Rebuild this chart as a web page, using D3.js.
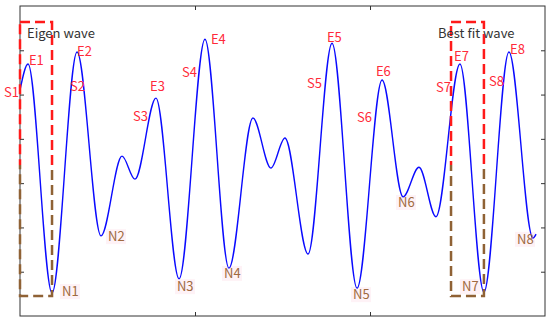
<!DOCTYPE html>
<html>
<head>
<meta charset="utf-8">
<script src="https://cdn.jsdelivr.net/npm/d3@7"></script>
<style>
body { margin: 0; background: #fff; }
text { font-family: "Noto Sans CJK SC", "Noto Sans", sans-serif; }
</style>
</head>
<body>
<div id="chart"></div>
<script>
// wave samples (turning points of the curve)
var waveX = [0, 0.046, 0.183, 0.326, 0.463, 0.583, 0.657, 0.777, 0.909, 1.057, 1.194, 1.331, 1.434, 1.514, 1.646, 1.783, 1.926, 2.069, 2.189, 2.280, 2.377, 2.514, 2.651, 2.794, 2.931, 2.949];
var waveY = [5.10, 5.69, 0.52, 5.96, 1.81, 3.61, 3.09, 4.92, 0.84, 6.25, 1.08, 4.47, 3.34, 4.02, 1.40, 6.16, 0.63, 5.33, 2.69, 3.36, 2.24, 5.69, 0.54, 5.96, 1.76, 1.85];

// point labels
var eNames = ['E1','E2','E3','E4','E5','E6','E7','E8'];
var eX = [0.051, 0.326, 0.743, 1.091, 1.754, 2.034, 2.480, 2.800];
var eY = [5.67, 5.88, 5.08, 6.14, 6.19, 5.42, 5.76, 5.92];
var sNames = ['S1','S2','S3','S4','S5','S6','S7','S8'];
var sX = [-0.091, 0.286, 0.646, 0.926, 1.640, 1.926, 2.377, 2.680];
var sY = [4.95, 5.08, 4.40, 5.40, 5.15, 4.38, 5.06, 5.19];
var nNames = ['N1','N2','N3','N4','N5','N6','N7','N8'];
var nX = [0.240, 0.503, 0.897, 1.166, 1.903, 2.160, 2.526, 2.840];
var nY = [0.45, 1.69, 0.56, 0.86, 0.38, 2.46, 0.56, 1.63];

// dashed windows
var boxNames = ['Eigen wave', 'Best fit wave'];
var boxX0 = [0, 2.463];
var boxX1 = [0.183, 2.651];
var boxY0 = 0.45, boxY1 = 6.64;
var boxTitleX = [0.040, 2.389];
var boxTitleY = 6.27;

var xTicks = [1, 2];
var yTicks = [1, 2, 3, 4, 5, 6];

var width = 550, height = 322;
var margin = {top: 6, right: 5, bottom: 6, left: 20};
var w = width - margin.left - margin.right,
    h = height - margin.top - margin.bottom;

var svg = d3.select('#chart').append('svg')
  .attr('width', width).attr('height', height)
  .append('g')
  .attr('transform', 'translate(' + margin.left + ',' + margin.top + ')');

var x = d3.scaleLinear().domain([0, 3]).range([0, w]);
var y = d3.scaleLinear().domain([0, 7]).range([h, 0]);

// axes with inward ticks, no labels
function styleAxis(g) {
  g.selectAll('text').remove();
  g.selectAll('line').attr('stroke', '#333');
  g.select('.domain').remove();
}
svg.append('g').attr('transform', 'translate(0,' + h + ')')
  .call(d3.axisBottom(x).tickValues(xTicks).tickSizeInner(-4).tickSizeOuter(0)).call(styleAxis);
svg.append('g')
  .call(d3.axisTop(x).tickValues(xTicks).tickSizeInner(-4).tickSizeOuter(0)).call(styleAxis);
svg.append('g')
  .call(d3.axisLeft(y).tickValues(yTicks).tickSizeInner(-4).tickSizeOuter(0)).call(styleAxis);
svg.append('g').attr('transform', 'translate(' + w + ',0)')
  .call(d3.axisRight(y).tickValues(yTicks).tickSizeInner(-4).tickSizeOuter(0)).call(styleAxis);
svg.append('rect').attr('x', 0).attr('y', 0).attr('width', w).attr('height', h)
  .attr('fill', 'none').attr('stroke', '#333').attr('stroke-width', 1);

// faint pink halo behind N labels
var nData = nNames.map(function(n, i) { return {name: n, x: nX[i], y: nY[i]}; });
svg.selectAll('.nbg').data(nData).enter().append('rect')
  .attr('x', function(d) { return x(d.x) - 2; })
  .attr('y', function(d) { return y(d.y) - 12; })
  .attr('width', 20).attr('height', 15)
  .attr('fill', '#fef2f6');

// wave
var pts = waveX.map(function(v, i) { return [v, waveY[i]]; });
var line = d3.line().x(function(d) { return x(d[0]); }).y(function(d) { return y(d[1]); })
  .curve(d3.curveMonotoneX);
svg.append('path').datum(pts).attr('d', line)
  .attr('fill', 'none').attr('stroke', '#0a0aff').attr('stroke-width', 1.4);

// dashed boxes, red above and brownish lower down
var split = 165 - margin.top;
svg.append('clipPath').attr('id', 'upper').append('rect')
  .attr('x', -10).attr('y', -10).attr('width', w + 20).attr('height', split + 10);
svg.append('clipPath').attr('id', 'lower').append('rect')
  .attr('x', -10).attr('y', split).attr('width', w + 20).attr('height', h - split + 10);

[['upper', '#ff1a1a'], ['lower', '#8f6235']].forEach(function(part) {
  svg.append('g').attr('clip-path', 'url(#' + part[0] + ')')
    .selectAll('rect').data(boxX0).enter().append('rect')
    .attr('x', function(d) { return x(d); })
    .attr('y', y(boxY1))
    .attr('width', function(d, i) { return x(boxX1[i]) - x(d); })
    .attr('height', y(boxY0) - y(boxY1))
    .attr('fill', 'none')
    .attr('stroke', part[1])
    .attr('stroke-width', 2.5)
    .attr('stroke-dasharray', '10,5');
});

svg.selectAll('.btitle').data(boxNames).enter().append('text')
  .attr('x', function(d, i) { return x(boxTitleX[i]); })
  .attr('y', y(boxTitleY))
  .attr('font-size', 13).attr('fill', '#333')
  .text(function(d) { return d; });

// labels
function addLabels(names, xs, ys, color) {
  svg.append('g').selectAll('text').data(names).enter().append('text')
    .attr('x', function(d, i) { return x(xs[i]); })
    .attr('y', function(d, i) { return y(ys[i]); })
    .attr('font-size', 13).attr('fill', color)
    .text(function(d) { return d; });
}
addLabels(eNames, eX, eY, '#ff2a3a');
addLabels(sNames, sX, sY, '#ff2a3a');
addLabels(nNames, nX, nY, '#a06a40');
</script>
</body>
</html>
